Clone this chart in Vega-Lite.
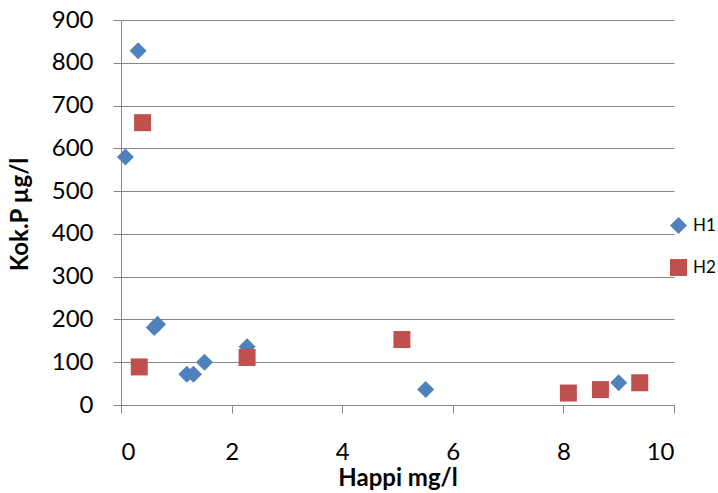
{
  "$schema": "https://vega.github.io/schema/vega-lite/v6.json",
  "width": 553,
  "height": 385,
  "autosize": {"type": "none"},
  "padding": {"left": 121, "top": 20, "right": 44, "bottom": 88},
  "background": "white",
  "config": {
    "view": {"stroke": null},
    "font": "Lato"
  },
  "data": {
    "values": [
      {"happi": 0.31, "kokp": 828, "series": "H1"},
      {"happi": 0.08, "kokp": 580, "series": "H1"},
      {"happi": 0.60, "kokp": 181, "series": "H1"},
      {"happi": 0.66, "kokp": 189, "series": "H1"},
      {"happi": 1.19, "kokp": 72, "series": "H1"},
      {"happi": 1.31, "kokp": 72, "series": "H1"},
      {"happi": 1.51, "kokp": 100, "series": "H1"},
      {"happi": 2.28, "kokp": 136, "series": "H1"},
      {"happi": 5.51, "kokp": 36, "series": "H1"},
      {"happi": 9.0, "kokp": 52, "series": "H1"},
      {"happi": 0.39, "kokp": 660, "series": "H2"},
      {"happi": 0.33, "kokp": 89, "series": "H2"},
      {"happi": 2.28, "kokp": 111, "series": "H2"},
      {"happi": 5.08, "kokp": 153, "series": "H2"},
      {"happi": 8.09, "kokp": 28, "series": "H2"},
      {"happi": 8.67, "kokp": 36, "series": "H2"},
      {"happi": 9.38, "kokp": 52, "series": "H2"}
    ]
  },
  "mark": {"type": "point", "filled": true, "opacity": 1, "size": 289},
  "encoding": {
    "x": {
      "field": "happi",
      "type": "quantitative",
      "scale": {"domain": [0, 10], "nice": false, "zero": false},
      "axis": {
        "title": "Happi mg/l",
        "values": [0, 2, 4, 6, 8, 10],
        "grid": false,
        "domainColor": "#868686",
        "tickColor": "#868686",
        "tickSize": 8,
        "labelPadding": 27,
        "labelFontSize": 24,
        "labelColor": "#000000",
        "labelFont": "Lato",
        "titleFont": "Lato",
        "titleFontSize": 24,
        "titleFontWeight": "bold",
        "titleColor": "#000000",
        "titleY": 73,
        "titleBaseline": "middle"
      }
    },
    "y": {
      "field": "kokp",
      "type": "quantitative",
      "scale": {"domain": [0, 900], "nice": false},
      "axis": {
        "title": "Kok.P µg/l",
        "values": [0, 100, 200, 300, 400, 500, 600, 700, 800, 900],
        "grid": true,
        "gridColor": "#868686",
        "gridWidth": 1,
        "domainColor": "#868686",
        "tickColor": "#868686",
        "tickSize": 8,
        "labelPadding": 20,
        "labelFontSize": 24,
        "labelColor": "#000000",
        "labelFont": "Lato",
        "titleFont": "Lato",
        "titleFontSize": 24,
        "titleFontWeight": "bold",
        "titleColor": "#000000",
        "titleX": -101,
        "titleY": 194,
        "titleAngle": -90,
        "titleAlign": "center",
        "titleBaseline": "middle"
      }
    },
    "color": {
      "field": "series",
      "type": "nominal",
      "scale": {"domain": ["H1", "H2"], "range": ["#4F81BD", "#C0504D"]},
      "legend": {
        "title": null,
        "orient": "none",
        "legendX": 549,
        "legendY": 197,
        "padding": 0,
        "rowPadding": 24,
        "symbolSize": 289,
        "symbolStrokeWidth": 0,
        "labelFontSize": 17,
        "labelFont": "Lato",
        "labelColor": "#000000",
        "labelOffset": 6
      }
    },
    "shape": {
      "field": "series",
      "type": "nominal",
      "scale": {"domain": ["H1", "H2"], "range": ["diamond", "square"]},
      "legend": null
    }
  }
}
